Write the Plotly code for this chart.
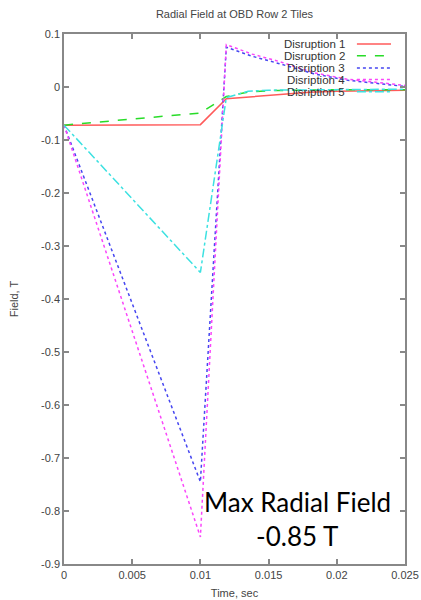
import plotly.graph_objects as go

# ---- data ----
t1 = [0.0, 0.010, 0.0119, 0.0135, 0.016, 0.018, 0.020, 0.025]
d1 = [-0.072, -0.071, -0.022, -0.019, -0.014, -0.010, -0.008, -0.006]

t2 = [0.0, 0.010, 0.0119, 0.0136, 0.015, 0.020, 0.025]
d2 = [-0.072, -0.049, -0.018, -0.009, -0.007, -0.005, -0.005]

t3 = [0.0, 0.010, 0.0119, 0.0138, 0.0158, 0.0183, 0.0207, 0.0241, 0.025]
d3 = [-0.072, -0.745, 0.075, 0.058, 0.044, 0.025, 0.013, 0.003, 0.001]

t4 = [0.0, 0.010, 0.0119, 0.0138, 0.0158, 0.0183, 0.0207, 0.0241, 0.025]
d4 = [-0.072, -0.849, 0.080, 0.062, 0.048, 0.027, 0.015, 0.005, 0.003]

t5 = [0.0, 0.010, 0.0119, 0.0135, 0.015, 0.020, 0.025]
d5 = [-0.072, -0.350, -0.020, -0.008, -0.006, -0.005, -0.004]

names = ["Disruption 1", "Disruption 2", "Disription 3", "Disription 4", "Disription 5"]
colors = ["rgb(255,90,90)", "rgb(40,220,40)", "rgb(70,70,240)", "rgb(250,70,250)", "rgb(60,225,225)"]
dashes = ["solid", "dash", "dot", "dot", "dashdot"]

xticks = [0, 0.005, 0.01, 0.015, 0.02, 0.025]
xticktext = ["0", "0.005", "0.01", "0.015", "0.02", "0.025"]
yticks = [0.1, 0, -0.1, -0.2, -0.3, -0.4, -0.5, -0.6, -0.7, -0.8, -0.9]
yticktext = ["0.1", "0", "-0.1", "-0.2", "-0.3", "-0.4", "-0.5", "-0.6", "-0.7", "-0.8", "-0.9"]

series = [(t1, d1), (t2, d2), (t3, d3), (t4, d4), (t5, d5)]

fig = go.Figure()
for (tx, dy), nm, c, ds in zip(series, names, colors, dashes):
    fig.add_trace(go.Scatter(x=tx, y=dy, mode="lines", name=nm,
                             line=dict(color=c, width=1.5, dash=ds),
                             showlegend=False))

# manual legend (text right-aligned, sample on right, as in gnuplot)
leg_y = [0.981, 0.959, 0.936, 0.914, 0.891]
for nm, c, ds, yy in zip(names, colors, dashes, leg_y):
    fig.add_annotation(xref="paper", yref="paper", x=0.830, y=yy, text=nm,
                       showarrow=False, xanchor="right", yanchor="middle",
                       font=dict(family="Liberation Sans, Arial", size=11.5, color="#333"))
    fig.add_shape(type="line", xref="paper", yref="paper", x0=0.859, x1=0.959,
                  y0=yy, y1=yy, line=dict(color=c, width=1.5, dash=ds))

fig.add_annotation(xref="paper", yref="paper", x=0.686, y=0.117,
                   text="Max Radial Field", showarrow=False,
                   xanchor="center", yanchor="middle",
                   font=dict(family="Lato", size=26, color="black"))
fig.add_annotation(xref="paper", yref="paper", x=0.683, y=0.053,
                   text="-0.85 T", showarrow=False,
                   xanchor="center", yanchor="middle",
                   font=dict(family="Lato", size=26, color="black"))

axis_common = dict(showgrid=False, zeroline=False, showline=True, linecolor="#888",
                   linewidth=1.5, mirror="allticks", ticks="inside", ticklen=5,
                   tickcolor="#888", tickwidth=1.5, automargin=False,
                   tickfont=dict(family="Liberation Sans, Arial", size=11, color="#444"))

fig.update_layout(
    width=421, height=600,
    margin=dict(l=64, r=16, t=34, b=36),
    paper_bgcolor="white", plot_bgcolor="white",
    title=dict(text="Radial Field at OBD Row 2 Tiles", x=0.557, xanchor="center",
               y=0.976, yanchor="middle",
               font=dict(family="Liberation Sans, Arial", size=11, color="#444")),
    xaxis=dict(range=[0, 0.025], tickvals=xticks, ticktext=xticktext,
               title=dict(text="Time, sec", standoff=9,
                          font=dict(family="Liberation Sans, Arial", size=11, color="#444")),
               **axis_common),
    yaxis=dict(range=[-0.9, 0.1], tickvals=yticks, ticktext=yticktext,
               title=dict(text="Field, T", standoff=20,
                          font=dict(family="Liberation Sans, Arial", size=11, color="#444")),
               **axis_common),
)

fig.write_html("out.html")
